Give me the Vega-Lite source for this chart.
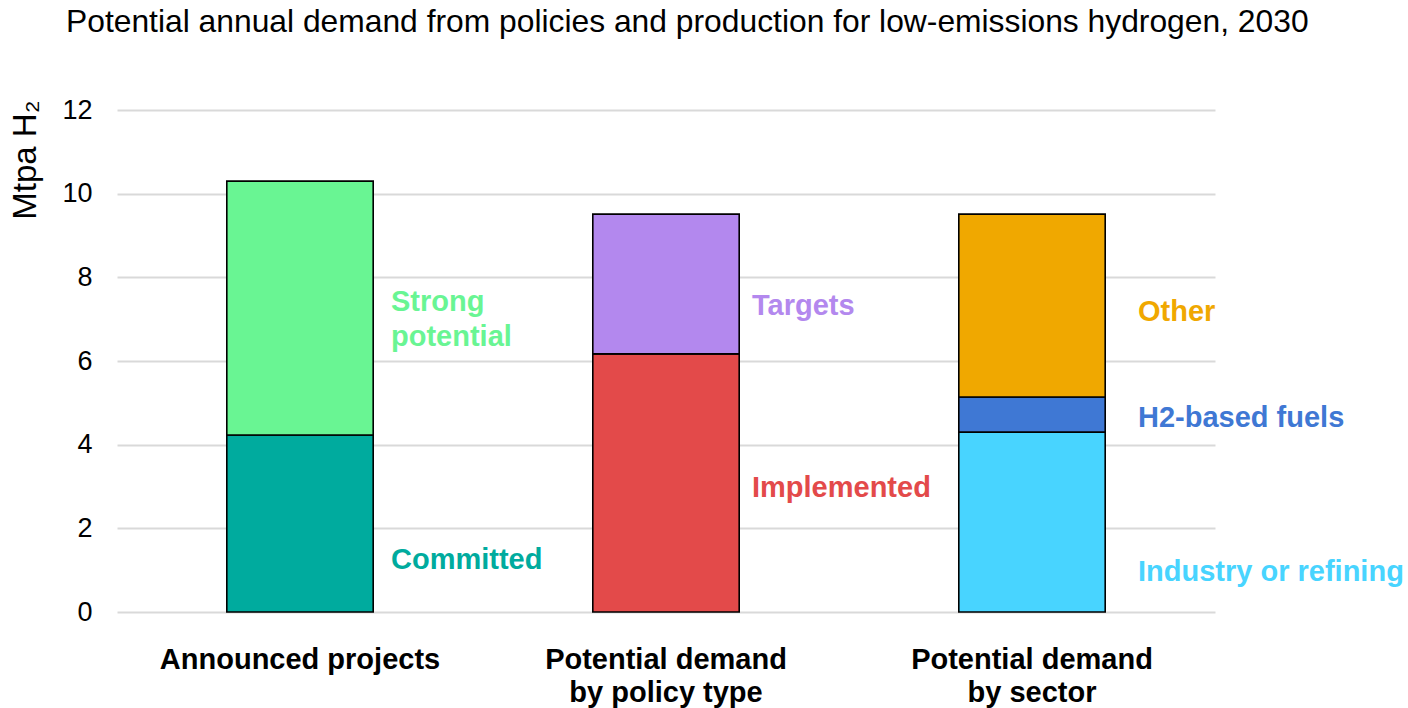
{
  "$schema": "https://vega.github.io/schema/vega-lite/v6.json",
  "width": 1098,
  "height": 502,
  "autosize": {"type": "none"},
  "padding": {"left": 117, "top": 110, "right": 193, "bottom": 96},
  "background": "white",
  "title": {
    "text": "Potential annual demand from policies and production for low-emissions hydrogen, 2030",
    "anchor": "start",
    "frame": "group",
    "dx": -51,
    "offset": 57,
    "font": "Liberation Sans",
    "fontSize": 31.8,
    "fontWeight": "normal",
    "color": "#000000"
  },
  "data": {
    "values": [
      {"category": "Announced projects", "segment": "Committed", "label": "Committed", "value": 4.23, "level": 1, "label_y": 1.24},
      {"category": "Announced projects", "segment": "Strong potential", "label": "Strong\npotential", "value": 6.07, "level": 2, "label_y": 7.41},
      {"category": "Potential demand\nby policy type", "segment": "Implemented", "label": "Implemented", "value": 6.17, "level": 1, "label_y": 2.96},
      {"category": "Potential demand\nby policy type", "segment": "Targets", "label": "Targets", "value": 3.34, "level": 2, "label_y": 7.32},
      {"category": "Potential demand\nby sector", "segment": "Industry or refining", "label": "Industry or refining", "value": 4.3, "level": 1, "label_y": 0.96},
      {"category": "Potential demand\nby sector", "segment": "H2-based fuels", "label": "H2-based fuels", "value": 0.84, "level": 2, "label_y": 4.64},
      {"category": "Potential demand\nby sector", "segment": "Other", "label": "Other", "value": 4.37, "level": 3, "label_y": 7.17}
    ]
  },
  "encoding": {
    "x": {
      "field": "category",
      "type": "nominal",
      "sort": null,
      "scale": {"paddingInner": 0.6, "paddingOuter": 0.3},
      "axis": {
        "title": null,
        "labelAngle": 0,
        "labelExpr": "split(datum.label, '\\n')",
        "labelFont": "Liberation Sans",
        "labelFontSize": 29,
        "labelFontWeight": "bold",
        "labelColor": "#000000",
        "labelLineHeight": 33,
        "labelLimit": 0,
        "labelPadding": 47,
        "labelBaseline": "middle",
        "ticks": false,
        "domain": false,
        "grid": false
      }
    }
  },
  "layer": [
    {
      "mark": {"type": "bar", "stroke": "#000000", "strokeWidth": 1.6},
      "encoding": {
        "y": {
          "field": "value",
          "type": "quantitative",
          "stack": "zero",
          "scale": {"domain": [0, 12], "nice": false},
          "axis": {
            "values": [0, 2, 4, 6, 8, 10, 12],
            "title": "Mtpa H₂",
            "titleFont": "Liberation Sans",
            "titleFontSize": 33,
            "titleFontWeight": "normal",
            "titleColor": "#000000",
            "titleAngle": -90,
            "titleAlign": "right",
            "titleBaseline": "middle",
            "titleX": -92,
            "titleY": -10,
            "labelFont": "Liberation Sans",
            "labelFontSize": 27,
            "labelColor": "#000000",
            "labelPadding": 25,
            "ticks": false,
            "domain": false,
            "grid": true,
            "gridColor": "#d9d9d9",
            "gridWidth": 2
          }
        },
        "order": {"field": "level", "type": "quantitative", "sort": "ascending"},
        "color": {
          "field": "segment",
          "type": "nominal",
          "legend": null,
          "scale": {
            "domain": ["Committed", "Strong potential", "Implemented", "Targets", "Industry or refining", "H2-based fuels", "Other"],
            "range": ["#00ab9e", "#69f593", "#e34a4a", "#b388ee", "#48d4ff", "#3f78d4", "#f0a800"]
          }
        }
      }
    },
    {
      "transform": [{"filter": "datum.category == 'Announced projects'"}],
      "mark": {"type": "text", "align": "left", "baseline": "middle", "dx": 91, "font": "Liberation Sans", "fontSize": 29, "fontWeight": "bold", "lineHeight": 35, "lineBreak": "\n"},
      "encoding": {
        "y": {"field": "label_y", "type": "quantitative"},
        "text": {"field": "label", "type": "nominal"},
        "color": {"field": "segment", "type": "nominal", "legend": null}
      }
    },
    {
      "transform": [{"filter": "datum.category == 'Potential demand\\nby policy type'"}],
      "mark": {"type": "text", "align": "left", "baseline": "middle", "dx": 86, "font": "Liberation Sans", "fontSize": 29, "fontWeight": "bold"},
      "encoding": {
        "y": {"field": "label_y", "type": "quantitative"},
        "text": {"field": "label", "type": "nominal"},
        "color": {"field": "segment", "type": "nominal", "legend": null}
      }
    },
    {
      "transform": [{"filter": "datum.category == 'Potential demand\\nby sector'"}],
      "mark": {"type": "text", "align": "left", "baseline": "middle", "dx": 106, "font": "Liberation Sans", "fontSize": 29, "fontWeight": "bold"},
      "encoding": {
        "y": {"field": "label_y", "type": "quantitative"},
        "text": {"field": "label", "type": "nominal"},
        "color": {"field": "segment", "type": "nominal", "legend": null}
      }
    }
  ],
  "config": {"view": {"stroke": null}}
}
